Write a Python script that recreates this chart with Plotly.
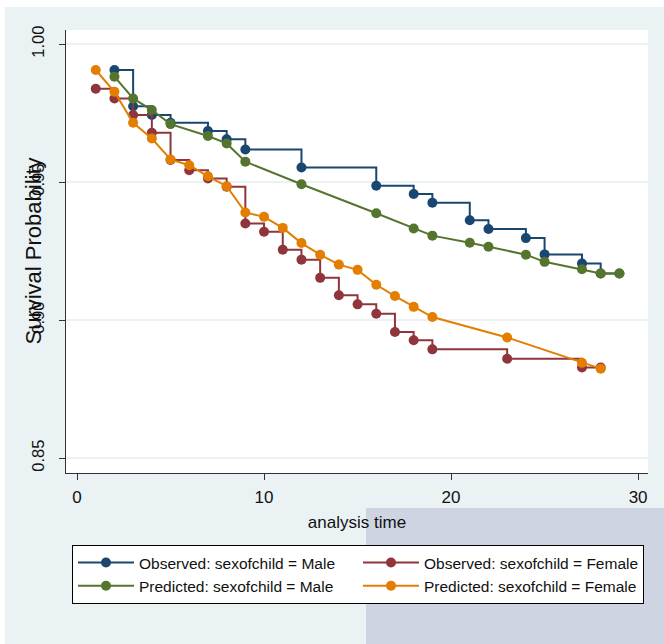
import plotly.graph_objects as go

# Observed: sexofchild = Male (Kaplan-Meier, step)
om_t = [2, 3, 4, 5, 7, 8, 9, 12, 16, 18, 19, 21, 22, 24, 25, 27, 28, 29]
om_s = [0.9906, 0.9775, 0.9743, 0.9715, 0.9685, 0.9655, 0.9618, 0.9553, 0.9487,
        0.9457, 0.9425, 0.9362, 0.9330, 0.9297, 0.9238, 0.9205, 0.9169, 0.9169]

# Observed: sexofchild = Female
of_t = [1, 2, 3, 4, 5, 6, 7, 8, 9, 10, 11, 12, 13, 14, 15, 16, 17, 18, 19, 23, 27, 28]
of_s = [0.9838, 0.9803, 0.9743, 0.9679, 0.9580, 0.9543, 0.9513, 0.9483, 0.9350,
        0.9320, 0.9255, 0.9219, 0.9153, 0.9090, 0.9057, 0.9023, 0.8957, 0.8927,
        0.8894, 0.8860, 0.8828, 0.8828]

# Predicted: sexofchild = Male
pm_t = [2, 3, 4, 5, 7, 8, 9, 12, 16, 18, 19, 21, 22, 24, 25, 27, 28, 29]
pm_s = [0.9882, 0.9803, 0.9761, 0.9710, 0.9667, 0.9640, 0.9574, 0.9492, 0.9387,
        0.9332, 0.9306, 0.9280, 0.9266, 0.9237, 0.9211, 0.9184, 0.9169, 0.9169]

# Predicted: sexofchild = Female
pf_t = [1, 2, 3, 4, 5, 6, 7, 8, 9, 10, 11, 12, 13, 14, 15, 16, 17, 18, 19, 23, 27, 28]
pf_s = [0.9906, 0.9827, 0.9715, 0.9658, 0.9582, 0.9561, 0.9521, 0.9485, 0.9390,
        0.9374, 0.9334, 0.9279, 0.9237, 0.9201, 0.9182, 0.9128, 0.9087, 0.9048,
        0.9011, 0.8937, 0.8845, 0.8824]

x_ticks = [0, 10, 20, 30]
y_ticks = [1.00, 0.95, 0.90, 0.85]
y_tick_labels = ["1.00", "0.95", "0.90", "0.85"]

NAVY = "#1A476F"
MAROON = "#90353B"
GREEN = "#55752F"
ORANGE = "#E37E00"

fig = go.Figure()

def add(t, s, name, color, shape):
    fig.add_trace(go.Scatter(
        x=t, y=s, name=name, mode="lines+markers",
        line=dict(color=color, width=2, shape=shape),
        marker=dict(color=color, size=10, symbol="circle"),
    ))

add(om_t, om_s, "Observed: sexofchild = Male", NAVY, "hv")
add(of_t, of_s, "Observed: sexofchild = Female", MAROON, "hv")
add(pm_t, pm_s, "Predicted: sexofchild = Male", GREEN, "linear")
add(pf_t, pf_s, "Predicted: sexofchild = Female", ORANGE, "linear")

font = "Liberation Sans, Arial, sans-serif"

fig.update_layout(
    width=664, height=644,
    margin=dict(l=66, r=16, t=30, b=171),
    paper_bgcolor="#EAF2F3",
    plot_bgcolor="white",
    showlegend=True,
    legend=dict(
        orientation="h",
        x=(72 - 66) / 582, xanchor="left",
        y=(473 - 545) / 443, yanchor="top",
        bgcolor="white",
        bordercolor="black", borderwidth=1,
        font=dict(family=font, size=15.5, color="#111"),
        entrywidth=214, entrywidthmode="pixels",
        itemwidth=56,
        traceorder="normal",
    ),
    xaxis=dict(
        range=[-0.59, 30.53], automargin=False,
        tickmode="array", tickvals=x_ticks, ticktext=[str(v) for v in x_ticks],
        ticks="outside", ticklen=6, tickcolor="#333",
        ticklabelstandoff=3,
        showline=True, linecolor="#333", linewidth=1,
        showgrid=False, zeroline=False,
        tickfont=dict(family=font, size=17, color="#111"),
        title=dict(text="analysis time", font=dict(family=font, size=17, color="#111"), standoff=9),
    ),
    yaxis=dict(
        range=[0.8446, 1.0051], automargin=False,
        tickmode="array", tickvals=y_ticks, ticktext=y_tick_labels,
        tickangle=-90,
        ticks="outside", ticklen=6, tickcolor="#333",
        ticklabelstandoff=8,
        showline=True, linecolor="#333", linewidth=1,
        showgrid=True, gridcolor="#EAF2F3", gridwidth=1.5,
        zeroline=False,
        tickfont=dict(family=font, size=16.5, color="#111"),
    ),
    annotations=[dict(
        text="Survival Probability", textangle=-90,
        xref="paper", yref="paper", x=(33 - 66) / 582, y=0.5,
        xanchor="center", yanchor="middle", showarrow=False,
        font=dict(family=font, size=22, color="#111"),
    )],
    shapes=[
        # white strips at top and left edges of the image
        dict(type="rect", xref="paper", yref="paper", x0=-0.2, x1=1.1,
             y0=(473 - 7) / 443, y1=1.2, fillcolor="white", line_width=0, layer="below"),
        dict(type="rect", xref="paper", yref="paper", x0=-0.2, x1=(5 - 66) / 582,
             y0=-0.5, y1=1.2, fillcolor="white", line_width=0, layer="below"),
        # faint watermark block at bottom right
        dict(type="rect", xref="paper", yref="paper",
             x0=(366 - 66) / 582, x1=1.1, y0=-0.5, y1=(473 - 508) / 443,
             fillcolor="rgba(174,176,207,0.45)", line_width=0, layer="above"),
    ],
)

fig.write_html("out.html", config={"displayModeBar": False},
               post_script="document.body.style.margin='0';")
